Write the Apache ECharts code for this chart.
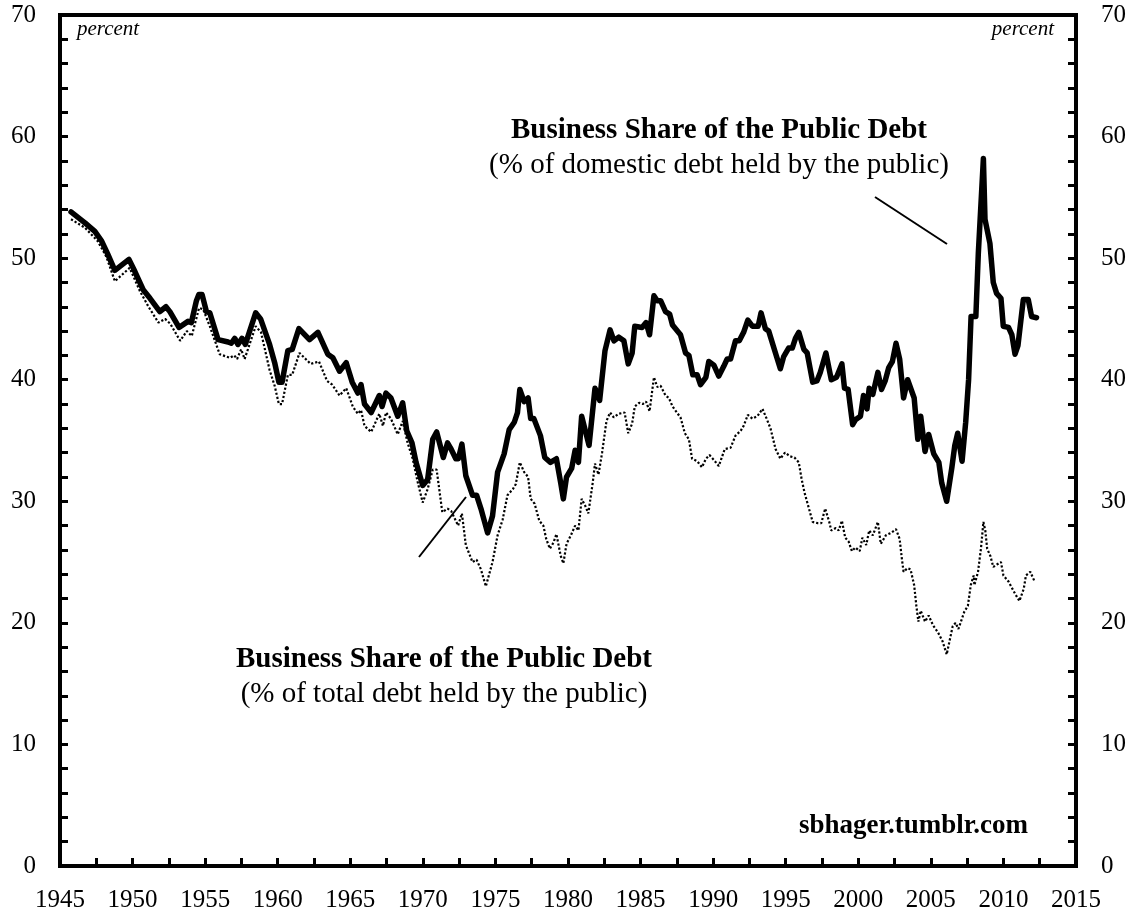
<!DOCTYPE html>
<html>
<head>
<meta charset="utf-8">
<script src="https://cdn.jsdelivr.net/npm/echarts@6/dist/echarts.min.js"></script>
<style>
html,body{margin:0;padding:0;background:#fff;}
#c{width:1134px;height:913px;}
</style>
</head>
<body>
<div id="c"></div>
<script>
// Business share of domestic debt held by the public (solid line)
const domesticYears = [1945.76,1946.72,1947.4,1947.87,1948.3,1948.78,1949.75,1950.16,1950.73,1951.2,1951.88,1952.3,1952.57,1953.2,1953.82,1954.05,1954.4,1954.56,1954.79,1955.09,1955.32,1955.89,1956.58,1956.8,1957.04,1957.26,1957.54,1957.77,1958.48,1958.82,1959.44,1959.79,1960.08,1960.3,1960.7,1961.0,1961.46,1962.19,1962.77,1963.45,1963.8,1964.26,1964.72,1965.13,1965.52,1965.74,1965.98,1966.44,1967.0,1967.19,1967.46,1967.8,1968.27,1968.61,1968.89,1969.25,1969.53,1969.99,1970.33,1970.68,1970.95,1971.41,1971.7,1971.9,1972.27,1972.45,1972.69,1972.96,1973.42,1973.7,1974.0,1974.46,1974.8,1975.15,1975.6,1975.95,1976.3,1976.52,1976.68,1976.98,1977.25,1977.43,1977.65,1978.1,1978.4,1978.79,1979.2,1979.5,1979.68,1979.9,1980.25,1980.49,1980.72,1980.94,1981.45,1981.86,1982.18,1982.55,1982.9,1983.17,1983.5,1983.85,1984.15,1984.42,1984.6,1985.1,1985.38,1985.62,1985.92,1986.15,1986.38,1986.72,1987.0,1987.2,1987.75,1988.1,1988.33,1988.6,1988.9,1989.13,1989.5,1989.7,1990.05,1990.39,1990.73,1990.96,1991.2,1991.54,1991.8,1992.1,1992.39,1992.7,1993.1,1993.3,1993.6,1993.83,1994.24,1994.63,1994.86,1995.2,1995.45,1995.67,1995.9,1996.25,1996.48,1996.86,1997.15,1997.38,1997.77,1998.14,1998.5,1998.87,1999.05,1999.3,1999.61,1999.8,2000.15,2000.36,2000.6,2000.75,2001.0,2001.35,2001.6,2001.85,2002.1,2002.35,2002.6,2002.85,2003.12,2003.4,2003.85,2004.1,2004.3,2004.6,2004.85,2005.2,2005.55,2005.75,2006.09,2006.45,2006.65,2006.85,2007.15,2007.4,2007.6,2007.77,2008.1,2008.27,2008.62,2008.73,2009.07,2009.3,2009.53,2009.83,2009.99,2010.35,2010.58,2010.8,2011.0,2011.37,2011.71,2011.94,2012.28];
const domesticValues = [53.8,52.9,52.2,51.4,50.3,49.0,49.9,48.9,47.4,46.7,45.6,46.0,45.6,44.3,44.8,44.7,46.5,47.0,47.0,45.6,45.5,43.3,43.1,43.0,43.4,42.9,43.4,42.9,45.5,45.0,42.9,41.4,39.8,39.8,42.4,42.5,44.2,43.3,43.9,42.1,41.8,40.7,41.4,39.8,38.9,39.6,38.0,37.3,38.7,37.8,38.9,38.5,37.0,38.1,35.8,34.8,33.2,31.3,31.8,35.1,35.7,33.6,34.8,34.4,33.5,33.5,34.7,32.1,30.5,30.5,29.4,27.4,28.8,32.4,33.9,35.9,36.5,37.3,39.2,38.2,38.5,36.8,36.8,35.4,33.6,33.2,33.5,31.5,30.2,32.0,32.7,34.2,33.2,37.0,34.6,39.3,38.3,42.4,44.1,43.2,43.5,43.2,41.3,42.2,44.4,44.3,44.7,43.7,46.9,46.5,46.5,45.6,45.4,44.5,43.7,42.2,42.0,40.4,40.4,39.6,40.2,41.5,41.2,40.3,41.1,41.7,41.7,43.2,43.2,43.9,44.9,44.4,44.4,45.5,44.2,44.0,42.4,40.9,41.9,42.6,42.6,43.4,43.9,42.5,42.2,39.8,39.9,40.6,42.2,40.0,40.2,41.3,39.3,39.2,36.3,36.7,37.0,38.7,37.6,39.3,38.8,40.6,39.2,39.9,41.0,41.5,43.0,41.7,38.5,40.0,38.5,35.1,37.0,34.1,35.5,33.9,33.2,31.5,30.0,32.8,34.6,35.6,33.3,36.5,40.0,45.2,45.2,50.4,58.2,53.2,51.2,48.0,47.1,46.7,44.4,44.3,43.7,42.1,42.8,46.6,46.6,45.2,45.1];

// Business share of total debt held by the public (dotted line)
const totalYears = [1945.76,1946.72,1947.6,1948.2,1948.78,1949.8,1950.5,1951.1,1951.78,1952.24,1952.6,1953.28,1953.74,1954.08,1954.58,1954.86,1955.32,1956.0,1956.7,1957.0,1957.2,1957.48,1957.72,1958.48,1958.85,1959.44,1959.79,1960.08,1960.3,1960.7,1961.0,1961.5,1962.27,1962.84,1963.4,1963.75,1964.26,1964.72,1965.17,1965.52,1965.74,1965.98,1966.44,1967.0,1967.25,1967.46,1967.8,1968.27,1968.61,1968.95,1969.3,1969.64,1969.99,1970.33,1970.68,1970.95,1971.34,1971.7,1971.95,1972.43,1972.69,1972.96,1973.42,1973.7,1974.0,1974.34,1974.8,1975.15,1975.5,1975.83,1976.2,1976.4,1976.68,1976.98,1977.25,1977.43,1977.7,1978.02,1978.3,1978.5,1978.75,1979.0,1979.2,1979.5,1979.68,1979.9,1980.2,1980.49,1980.72,1980.94,1981.2,1981.4,1981.7,1981.86,1982.1,1982.35,1982.65,1982.9,1983.15,1983.5,1983.9,1984.15,1984.42,1984.6,1984.9,1985.15,1985.38,1985.62,1985.92,1986.15,1986.38,1986.72,1986.95,1987.2,1987.5,1987.75,1988.05,1988.33,1988.55,1988.9,1989.23,1989.5,1989.75,1990.05,1990.39,1990.8,1991.2,1991.54,1991.9,1992.1,1992.39,1992.7,1993.05,1993.4,1993.65,1993.95,1994.3,1994.63,1994.95,1995.3,1995.6,1995.9,1996.1,1996.3,1996.6,1996.86,1997.2,1997.45,1997.72,1998.0,1998.14,1998.45,1998.65,1998.87,1999.1,1999.33,1999.56,1999.8,2000.1,2000.28,2000.55,2000.75,2001.0,2001.35,2001.55,2001.9,2002.25,2002.6,2002.85,2003.0,2003.12,2003.4,2003.6,2003.85,2004.0,2004.14,2004.3,2004.6,2004.85,2005.15,2005.5,2005.8,2006.09,2006.5,2006.7,2006.9,2007.3,2007.55,2007.75,2007.95,2008.0,2008.25,2008.45,2008.62,2008.75,2008.88,2009.1,2009.3,2009.55,2009.83,2010.0,2010.35,2010.8,2011.1,2011.4,2011.55,2011.85,2012.15];
const totalValues = [53.2,52.5,51.4,50.1,48.1,49.2,47.3,46.0,44.7,45.0,44.6,43.2,44.0,43.6,45.9,45.8,44.4,42.1,41.8,42.0,41.7,42.5,41.7,44.4,43.9,40.8,39.5,38.0,38.0,40.4,40.4,42.2,41.3,41.5,39.9,39.6,38.7,39.3,37.8,37.2,37.5,36.2,35.7,37.2,36.2,37.3,36.8,35.5,36.6,34.8,33.5,31.6,29.9,31.0,32.6,32.6,29.1,29.4,29.2,28.0,29.0,26.4,25.0,25.2,24.4,23.0,25.0,27.2,28.5,30.5,31.0,31.4,33.2,32.4,32.0,30.2,29.8,28.4,28.0,26.9,26.1,26.6,27.3,25.5,24.9,26.5,27.2,28.0,27.6,30.2,29.6,29.0,31.5,33.1,32.2,34.0,36.6,37.3,36.9,37.2,37.3,35.6,36.4,37.8,38.1,38.0,38.2,37.4,40.2,39.4,39.5,38.7,38.5,37.8,37.3,36.9,35.6,35.1,33.5,33.3,32.8,33.5,33.8,33.4,32.9,34.3,34.4,35.4,35.8,36.2,37.1,36.8,37.0,37.6,36.9,36.0,34.3,33.5,34.0,33.7,33.6,33.2,31.8,30.7,29.4,28.3,28.2,28.2,29.4,28.3,27.6,27.8,27.6,28.4,27.0,26.7,25.9,26.2,25.9,27.0,26.4,27.6,27.2,28.3,26.5,27.2,27.4,27.7,26.9,25.3,24.2,24.5,24.4,23.1,21.4,20.1,21.0,20.1,20.6,19.8,19.2,18.5,17.4,19.7,20.0,19.5,20.9,21.4,23.1,23.9,23.1,24.2,26.1,28.3,27.6,26.1,25.5,24.6,24.8,25.0,23.9,23.4,22.4,21.8,22.8,23.9,24.2,23.4];

const xTickLabels = ['1945','1950','1955','1960','1965','1970','1975','1980','1985','1990','1995','2000','2005','2010','2015'];
const yTickLabels = ['0','10','20','30','40','50','60','70'];

const FONT = "'Liberation Serif','Times New Roman',serif";
const domesticData = domesticYears.map((y, i) => [y, domesticValues[i]]);
const totalData = totalYears.map((y, i) => [y, totalValues[i]]);

const chart = echarts.init(document.getElementById('c'), null, {renderer: 'canvas'});

function yAxisCfg(pos, margin) {
  return {
    type: 'value', position: pos, min: 0, max: 70, interval: 10,
    axisLine: {show: true, onZero: false, lineStyle: {color: '#000', width: 4}},
    axisTick: {show: true, inside: true, length: 8, lineStyle: {color: '#000', width: 3}},
    minorTick: {show: true, splitNumber: 5, length: 8, lineStyle: {color: '#000', width: 3}},
    axisLabel: {color: '#000', fontFamily: FONT, fontSize: 25, margin: margin,
      formatter: v => yTickLabels[Math.round(v / 10)] || ''},
    splitLine: {show: false}
  };
}

const option = {
  backgroundColor: '#fff',
  animation: false,
  grid: {left: 60, right: 58, top: 15, bottom: 46, show: true, borderColor: '#000', borderWidth: 4, backgroundColor: 'transparent'},
  xAxis: {
    type: 'value', min: 1945, max: 2015, interval: 5,
    axisLine: {show: true, onZero: false, lineStyle: {color: '#000', width: 4}},
    axisTick: {show: true, inside: true, length: 8, lineStyle: {color: '#000', width: 3}},
    minorTick: {show: true, splitNumber: 2, length: 8, lineStyle: {color: '#000', width: 3}},
    axisLabel: {color: '#000', fontFamily: FONT, fontSize: 25, margin: 22,
      formatter: v => xTickLabels[Math.round((v - 1945) / 5)] || ''},
    splitLine: {show: false}
  },
  yAxis: [yAxisCfg('left', 24), yAxisCfg('right', 25)],
  series: [
    {
      name: 'total', type: 'line', data: totalData, showSymbol: false, symbol: 'none',
      lineStyle: {color: '#000', width: 2.2, type: [2.2, 2]}, z: 2
    },
    {
      name: 'domestic', type: 'line', data: domesticData, showSymbol: false, symbol: 'none',
      lineStyle: {color: '#000', width: 5.5, join: 'round', cap: 'round'}, z: 3
    }
  ],
  graphic: [
    {type: 'text', x: 77, y: 29, style: {text: 'percent', font: 'italic 21px ' + FONT, fill: '#000', textAlign: 'left', textVerticalAlign: 'middle'}},
    {type: 'text', x: 1054, y: 29, style: {text: 'percent', font: 'italic 21px ' + FONT, fill: '#000', textAlign: 'right', textVerticalAlign: 'middle'}},
    {type: 'text', x: 719, y: 131, style: {text: 'Business Share of the Public Debt', font: 'bold 29px ' + FONT, fill: '#000', textAlign: 'center', textVerticalAlign: 'middle'}},
    {type: 'text', x: 719, y: 165, style: {text: '(% of domestic debt held by the public)', font: '29px ' + FONT, fill: '#000', textAlign: 'center', textVerticalAlign: 'middle'}},
    {type: 'line', shape: {x1: 875, y1: 197, x2: 947, y2: 244}, style: {stroke: '#000', lineWidth: 2}},
    {type: 'text', x: 444, y: 660, style: {text: 'Business Share of the Public Debt', font: 'bold 29px ' + FONT, fill: '#000', textAlign: 'center', textVerticalAlign: 'middle'}},
    {type: 'text', x: 444, y: 694, style: {text: '(% of total debt held by the public)', font: '29px ' + FONT, fill: '#000', textAlign: 'center', textVerticalAlign: 'middle'}},
    {type: 'line', shape: {x1: 466, y1: 497, x2: 419, y2: 557}, style: {stroke: '#000', lineWidth: 2}},
    {type: 'text', x: 1028, y: 826, style: {text: 'sbhager.tumblr.com', font: 'bold 27px ' + FONT, fill: '#000', textAlign: 'right', textVerticalAlign: 'middle'}}
  ]
};
chart.setOption(option);
</script>
</body>
</html>
